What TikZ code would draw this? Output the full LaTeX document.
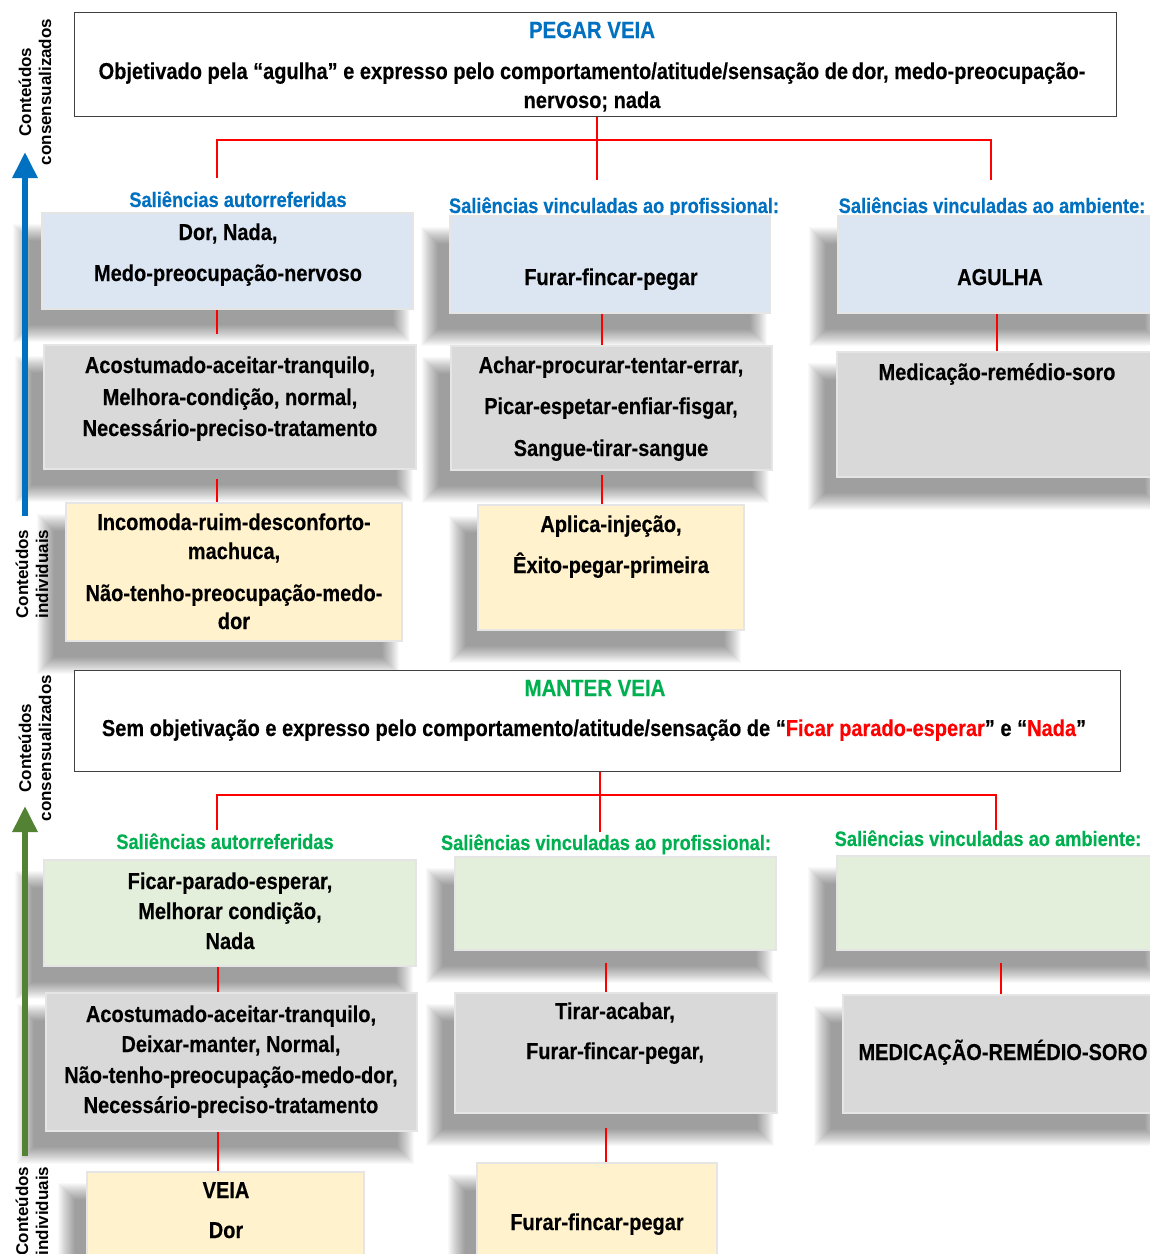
\documentclass[tikz,border=0pt]{standalone}
\usepackage{fontspec}
\newfontfamily\narrowsans[FakeStretch=0.87,BoldFeatures={FakeBold=0.3}]{Liberation Sans}
\newfontfamily\plainsans{Liberation Sans}
\usetikzlibrary{calc,arrows.meta,backgrounds}

\definecolor{boxblue}{HTML}{DCE6F2}
\definecolor{boxgray}{HTML}{D9D9D9}
\definecolor{boxyellow}{HTML}{FFF2CC}
\definecolor{boxgreen}{HTML}{E3EFDA}
\definecolor{headblue}{HTML}{0070C0}
\definecolor{headgreen}{HTML}{00B050}
\definecolor{arrowgreen}{HTML}{548235}
\definecolor{linkred}{HTML}{FF0000}

\tikzset{
  panel/.style={draw=black!75, line width=1pt, fill=white, inner sep=0pt},
  card/.style={fill=#1, draw=white!90!black, line width=1.2pt, inner sep=0pt},
  txt/.style={font=\narrowsans\bfseries\fontsize{23}{27}\selectfont, inner sep=0pt, anchor=base},
  head/.style={font=\narrowsans\bfseries\fontsize{23.5}{27}\selectfont, inner sep=0pt, anchor=base, text=#1},
  sal/.style={font=\narrowsans\bfseries\fontsize{21}{25}\selectfont, inner sep=0pt, anchor=base, text=#1},
  side/.style={font=\plainsans\bfseries\fontsize{17}{20}\selectfont, rotate=90, align=center, inner sep=0pt},
  conn/.style={draw=linkred, line width=2.6pt},
  axis/.style={line width=6pt, -{Triangle[width=24pt,length=26pt]}, draw=#1},
}

% soft shadow cast down and to the left of a card
\newcommand\boxshade[1]{%
  \begin{pgfonlayer}{background}
    \foreach \k in {0,...,17}{
      \fill[black,opacity=0.024]
        ($(#1.north west)+(-28+\k,12+\k)$) rectangle
        ($(#1.south east)+(-4-\k,32-\k)$);
    }
  \end{pgfonlayer}}

% card: name, colour, x1, y1, x2, y2
\newcommand\card[6]{%
  \node[card=#2, minimum width={#5-#3}, minimum height={#6-#4}] (#1)
    at ({(#3+#5)/2},{(#4+#6)/2}) {};
  \boxshade{#1}}

\begin{document}
\begin{tikzpicture}[x=1pt,y=-1pt]
\useasboundingbox (0,0) rectangle (1150,1254);
\begin{pgfonlayer}{background}
  \fill[white] (0,0) rectangle (1150,1254);
\end{pgfonlayer}

% ---------------- PEGAR VEIA ----------------
\node[panel, minimum width=1042, minimum height=104] (T1) at (595,64) {};
\node[head=headblue] (t1h) at (592,38) {PEGAR VEIA};
\node[txt] (t1a) at (592,79) {Objetivado pela “agulha” e expresso pelo comportamento/atitude/sensação de\,dor, medo-preocupação-};
\node[txt] (t1b) at (592,108) {nervoso; nada};

\node[sal=headblue] (sA) at (238,207) {Saliências autorreferidas};
\node[sal=headblue] (sB) at (614,213) {Saliências vinculadas ao profissional:};
\node[sal=headblue] (sC) at (992,213) {Saliências vinculadas ao ambiente:};

\card{A1}{boxblue}{42}{213}{413}{309}
\card{B1}{boxblue}{450}{216}{770}{313}
\card{C1}{boxblue}{838}{216}{1165}{313}
\card{A2}{boxgray}{44}{345}{416}{469}
\card{B2}{boxgray}{451}{346}{772}{470}
\card{C2}{boxgray}{837}{352}{1165}{477}
\card{A3}{boxyellow}{66}{503}{402}{641}
\card{B3}{boxyellow}{478}{505}{744}{630}

\node[txt] (a1a) at (228,240) {Dor, Nada,};
\node[txt] (a1b) at (228,281) {Medo-preocupação-nervoso};
\node[txt] (b1a) at (611,285) {Furar-fincar-pegar};
\node[txt] (c1a) at (1000,285) {AGULHA};

\node[txt] (a2a) at (230,373) {Acostumado-aceitar-tranquilo,};
\node[txt] (a2b) at (230,405) {Melhora-condição, normal,};
\node[txt] (a2c) at (230,436) {Necessário-preciso-tratamento};
\node[txt] (b2a) at (611,373) {Achar-procurar-tentar-errar,};
\node[txt] (b2b) at (611,414) {Picar-espetar-enfiar-fisgar,};
\node[txt] (b2c) at (611,456) {Sangue-tirar-sangue};
\node[txt] (c2a) at (997,380) {Medicação-remédio-soro};

\node[txt] (a3a) at (234,530) {Incomoda-ruim-desconforto-};
\node[txt] (a3b) at (234,559) {machuca,};
\node[txt] (a3c) at (234,601) {Não-tenho-preocupação-medo-};
\node[txt] (a3d) at (234,629) {dor};
\node[txt] (b3a) at (611,532) {Aplica-injeção,};
\node[txt] (b3b) at (611,573) {Êxito-pegar-primeira};

% links
\coordinate (bus1) at (0,140);
\coordinate (dA) at (217,178);
\coordinate (dB) at (597,180);
\coordinate (dC) at (991,180);
\draw[conn] (T1.south -| dB) -- (dB);
\draw[conn] (dA) -- (dA |- bus1) -- (dC |- bus1) -- (dC);
\coordinate (colB) at (602,0);
\coordinate (colC) at (997,0);
\draw[conn, shorten >=10pt] (A1.south -| dA) -- (A2.north -| dA);
\draw[conn] (B1.south -| colB) -- (B2.north -| colB);
\draw[conn] (C1.south -| colC) -- (C2.north -| colC);
\draw[conn, shorten <=9pt] (A2.south -| dA) -- (A3.north -| dA);
\draw[conn, shorten <=4pt] (B2.south -| colB) -- (B3.north -| colB);

% axis
\coordinate (up1s) at (25,516);
\coordinate (up1e) at (25,152);
\draw[axis=headblue] (up1s) -- (up1e);
\node[side] (cs1) at (35,92) {Conteúdos\\consensualizados};
\node[side] (ci1) at (32,574) {Conteúdos\\individuais};

% ---------------- MANTER VEIA ----------------
\node[panel, minimum width=1046, minimum height=101] (T2) at (597,720.5) {};
\node[head=headgreen] (t2h) at (595,696) {MANTER VEIA};
\node[txt] (t2a) at (594,736) {Sem objetivação e expresso pelo comportamento/atitude/sensação de “\textcolor{linkred}{Ficar parado-esperar}” e “\textcolor{linkred}{Nada}”};

\node[sal=headgreen] (sD) at (225,849) {Saliências autorreferidas};
\node[sal=headgreen] (sE) at (606,850) {Saliências vinculadas ao profissional:};
\node[sal=headgreen] (sF) at (988,846) {Saliências vinculadas ao ambiente:};

\card{D1}{boxgreen}{44}{860}{416}{966}
\card{E1}{boxgreen}{455}{857}{776}{950}
\card{F1}{boxgreen}{837}{856}{1165}{950}
\card{D2}{boxgray}{46}{993}{417}{1131}
\card{E2}{boxgray}{455}{993}{777}{1113}
\card{F2}{boxgray}{843}{995}{1165}{1113}
\card{D3}{boxyellow}{87}{1172}{364}{1280}
\card{E3}{boxyellow}{477}{1163}{717}{1280}

\node[txt] (d1a) at (230,889) {Ficar-parado-esperar,};
\node[txt] (d1b) at (230,919) {Melhorar condição,};
\node[txt] (d1c) at (230,949) {Nada};
\node[txt] (d2a) at (231,1022) {Acostumado-aceitar-tranquilo,};
\node[txt] (d2b) at (231,1052) {Deixar-manter, Normal,};
\node[txt] (d2c) at (231,1083) {Não-tenho-preocupação-medo-dor,};
\node[txt] (d2d) at (231,1113) {Necessário-preciso-tratamento};
\node[txt] (e2a) at (615,1019) {Tirar-acabar,};
\node[txt] (e2b) at (615,1059) {Furar-fincar-pegar,};
\node[txt] (f2a) at (1003,1060) {MEDICAÇÃO-REMÉDIO-SORO};
\node[txt] (d3a) at (226,1198) {VEIA};
\node[txt] (d3b) at (226,1238) {Dor};
\node[txt] (e3a) at (597,1230) {Furar-fincar-pegar};

% links
\coordinate (bus2) at (0,795);
\coordinate (eD) at (217,830);
\coordinate (eE) at (600,832);
\coordinate (eF) at (996,830);
\draw[conn] (T2.south -| eE) -- (eE);
\draw[conn] (eD) -- (eD |- bus2) -- (eF |- bus2) -- (eF);
\coordinate (colD) at (218,0);
\coordinate (colE) at (606,0);
\coordinate (colF) at (1001,0);
\draw[conn] (D1.south -| colD) -- (D2.north -| colD);
\draw[conn, shorten <=12pt] (E1.south -| colE) -- (E2.north -| colE);
\draw[conn, shorten <=12pt] (F1.south -| colF) -- (F2.north -| colF);
\draw[conn] (D2.south -| colD) -- (D3.north -| colD);
\draw[conn, shorten <=14pt] (E2.south -| colE) -- (E3.north -| colE);

% axis
\coordinate (up2s) at (25,1156);
\coordinate (up2e) at (25,806);
\draw[axis=arrowgreen] (up2s) -- (up2e);
\node[side] (cs2) at (35,748) {Conteúdos\\consensualizados};
\node[side] (ci2) at (32,1211) {Conteúdos\\individuais};
\end{tikzpicture}
\end{document}
